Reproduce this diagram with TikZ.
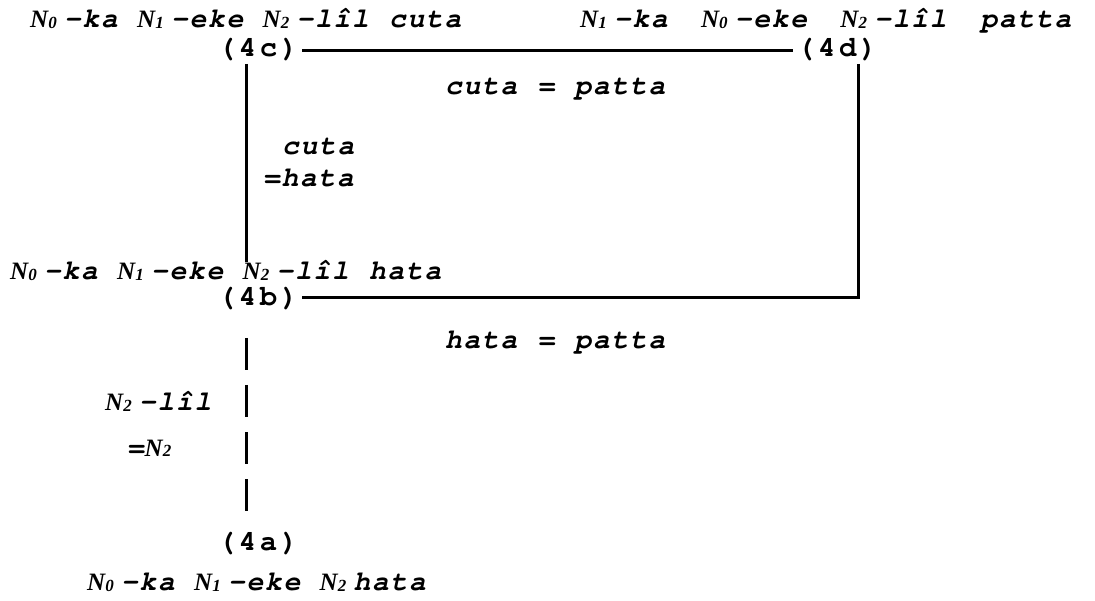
\documentclass[tikz,border=0pt]{standalone}
\usepackage{fontspec}
\newfontfamily\nfont{Liberation Serif}
\newfontfamily\twfont{TeX Gyre Cursor}
\newlength\cellw
\setlength\cellw{18.5pt}
\newlength\tagw
\setlength\tagw{21pt}
\ExplSyntaxOn
% every character of the argument sits in a fixed-width typewriter cell
\NewDocumentCommand\mono{m}{\str_map_inline:nn{#1}{\makebox[\cellw]{##1}}}
\NewDocumentCommand\monotag{m}{\str_map_inline:nn{#1}{\makebox[\tagw]{##1}}}
\ExplSyntaxOff
% horizontal gap measured in typewriter cells
\newcommand\blank[1]{\hspace*{#1\cellw}}
% N with a small subscript index
\newcommand\Nb[1]{\makebox[33pt][l]{{\nfont\bfseries\itshape\fontsize{25}{25}\selectfont N}\raisebox{-1pt}{\nfont\bfseries\itshape\fontsize{17}{17}\selectfont #1}}}
\tikzset{
  txt/.style={anchor=base west, inner sep=0pt,
    font=\twfont\bfseries\itshape\fontsize{28}{32}\selectfont},
  tag/.style={anchor=base west, inner sep=0pt,
    font=\twfont\bfseries\fontsize{29}{32}\selectfont},
  rule/.style={line width=3pt},
}
\begin{document}
\begin{tikzpicture}[x=1pt,y=-1pt]
\useasboundingbox (0,0) rectangle (1095,601);
% sentence forms
\node[txt] (sc) at (30,28) {\Nb{0}\mono{-ka }\Nb{1}\mono{-eke }\Nb{2}\mono{-lîl cuta}};
\node[txt] (sd) at (580,28) {\Nb{1}\mono{-ka}\blank{1.75}\Nb{0}\mono{-eke}\blank{1.75}\Nb{2}\mono{-lîl}\blank{1.75}\mono{patta}};
\node[txt] (sb) at (10,280) {\Nb{0}\mono{-ka }\Nb{1}\mono{-eke }\Nb{2}\mono{-lîl hata}};
\node[txt] (sa) at (87,590) {\Nb{0}\mono{-ka }\Nb{1}\mono{-eke }\Nb{2}\mono{hata}};
% example numbers
\node[tag] (c4) at (216,57) {\monotag{(4c)}};
\node[tag] (d4) at (795,57) {\monotag{(4d)}};
\node[tag] (b4) at (216,306) {\monotag{(4b)}};
\node[tag] (a4) at (216,550) {\monotag{(4a)}};
% edge labels
\node[txt] (ecd) at (444,95) {\mono{cuta = patta}};
\node[txt] (ecb1) at (281,155) {\mono{cuta}};
\node[txt] (ecb2) at (262,187) {\mono{=hata}};
\node[txt] (ebd) at (444,349) {\mono{hata = patta}};
\node[txt] (eab1) at (105,410) {\Nb{2}\mono{-lîl}};
\node[txt] (eab2) at (126,456) {\mono{=}\Nb{2}};
% corner and end points of the connectors
\coordinate (ctop) at (246,64);
\coordinate (cbot) at (246,262);
\coordinate (dtop) at (858,64);
\coordinate (dcorner) at (858,298);
\coordinate (atop) at (246,338);
\coordinate (abot) at (246,513);
% connectors
\draw[rule] ([xshift=2pt]c4.east) -- ([xshift=-2pt]d4.west);
\draw[rule] (ctop) -- (cbot);
\draw[rule] (dtop) -- (dcorner) -- ([xshift=2pt]b4.east |- dcorner);
\draw[rule, dash pattern=on 32pt off 15pt] (atop) -- (abot);
\end{tikzpicture}
\end{document}
